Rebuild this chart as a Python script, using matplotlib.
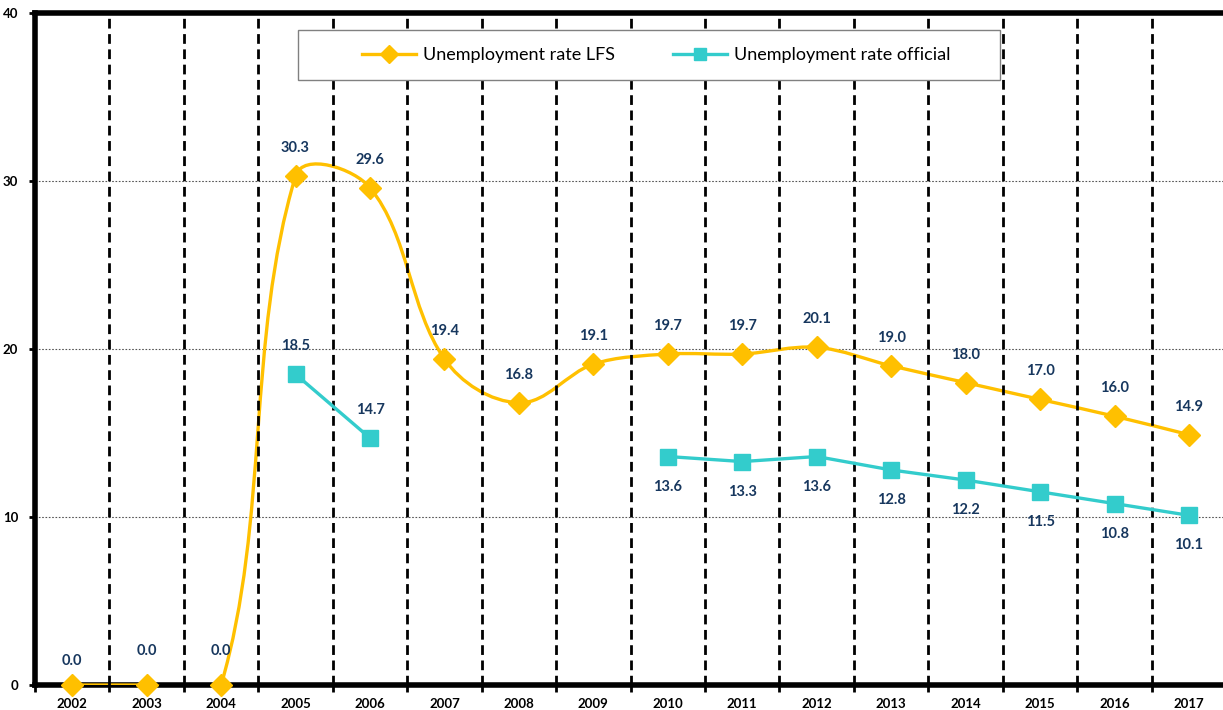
import numpy as np
import matplotlib.pyplot as plt
from matplotlib.path import Path
from matplotlib.patches import PathPatch, Rectangle

plt.rcParams['font.family'] = ['Lato', 'DejaVu Sans']

years = ['2002', '2003', '2004', '2005', '2006', '2007', '2008', '2009',
         '2010', '2011', '2012', '2013', '2014', '2015', '2016', '2017']
lfs = [0.0, 0.0, 0.0, 30.3, 29.6, 19.4, 16.8, 19.1,
       19.7, 19.7, 20.1, 19.0, 18.0, 17.0, 16.0, 14.9]
official = [np.nan, np.nan, np.nan, 18.5, 14.7, np.nan, np.nan, np.nan,
            13.6, 13.3, 13.6, 12.8, 12.2, 11.5, 10.8, 10.1]
yticks = [0, 10, 20, 30, 40]

gold = '#FFC000'
teal = '#33CCCC'
label_col = '#17375E'


def smooth_path(ax, xs, ys, f=1/3.0):
    # excel-ish smoothed line: bezier with tangents scaled by segment length (screen space)
    pts = ax.transData.transform(np.column_stack([xs, ys]))
    n = len(pts)
    verts = [pts[0]]
    codes = [Path.MOVETO]
    for i in range(n - 1):
        p0 = pts[i - 1] if i > 0 else pts[i]
        p1, p2 = pts[i], pts[i + 1]
        p3 = pts[i + 2] if i + 2 < n else pts[i + 1]
        d = np.hypot(*(p2 - p1))
        t1 = p2 - p0
        t2 = p3 - p1
        t1 = t1 / np.hypot(*t1)
        t2 = t2 / np.hypot(*t2)
        verts += [p1 + t1 * d * f, p2 - t2 * d * f, p2]
        codes += [Path.CURVE4] * 3
    verts = ax.transData.inverted().transform(np.array(verts))
    return Path(verts, codes)


fig = plt.figure(figsize=(12.23, 7.10), dpi=100)
ax = fig.add_axes([0.0286, 0.0352, 0.974, 0.9465])
x = np.arange(len(years))
ax.set_xlim(-0.5, len(years) - 0.5)
ax.set_ylim(0, 40)

# grid
for yv in yticks[1:-1]:
    ax.axhline(yv, color='#555555', lw=0.8, ls=(0, (1.5, 1.5)), zorder=1)

# LFS smoothed line
path = smooth_path(ax, x, lfs)
ax.add_patch(PathPatch(path, fill=False, ec=gold, lw=2.4, zorder=2, clip_on=True))
ax.plot(x, lfs, ls='none', marker='D', ms=11, color=gold, zorder=5, clip_on=False)

# official line
ax.plot(x, official, color=teal, lw=2.4, marker='s', ms=11, zorder=5)

# category boundary dashes
for b in np.arange(0.5, len(years) - 0.5, 1):
    ax.axvline(b, color='black', lw=2, ls=(0, (3.5, 2)), zorder=3)

# data labels
for xi, v in zip(x, lfs):
    dy = 24 if xi == 0 else (34 if v == 0 else 28)
    ax.annotate(f'{v:.1f}', (xi, v), xytext=(0, dy), textcoords='offset pixels',
                ha='center', va='center', fontsize=10.5, fontweight='bold',
                color=label_col, zorder=6)
for xi, v in zip(x, official):
    if np.isnan(v):
        continue
    dy = 28 if xi < 6 else -30
    ax.annotate(f'{v:.1f}', (xi, v), xytext=(0, dy), textcoords='offset pixels',
                ha='center', va='center', fontsize=10.5, fontweight='bold',
                color=label_col, zorder=6)

ax.set_xticks(x)
ax.set_xticklabels(years, fontsize=9.5, fontweight='bold')
ax.set_xticks(np.arange(-0.5, len(years), 1), minor=True)
ax.tick_params(axis='x', which='major', length=0, pad=9)
ax.tick_params(axis='x', which='minor', length=5, width=2, direction='out')
ax.set_yticks(yticks)
ax.set_yticklabels([str(t) for t in yticks], fontsize=9.5, fontweight='bold')
ax.tick_params(axis='y', length=4, width=2, pad=8)

for side in ['left', 'bottom', 'top']:
    ax.spines[side].set_linewidth(4)
    ax.spines[side].set_zorder(1.5)
ax.spines['right'].set_visible(False)

# legend box + entries
ax.add_patch(Rectangle((0.2208, 0.9003), 0.5892, 0.0744, transform=ax.transAxes,
                       fc='white', ec='#808080', lw=1, zorder=8))
h1, = ax.plot([], [], color=gold, lw=2.4, marker='D', ms=9)
h2, = ax.plot([], [], color=teal, lw=2.4, marker='s', ms=9)
leg = ax.legend([h1, h2], ['Unemployment rate LFS', 'Unemployment rate official'],
                loc='center', bbox_to_anchor=(0.5214, 0.9375),
                ncol=2, fontsize=13, frameon=False, handlelength=3.0,
                columnspacing=3.2, handletextpad=0.4, borderaxespad=0)
leg.set_zorder(9)

fig.savefig('out.png', dpi=100)
